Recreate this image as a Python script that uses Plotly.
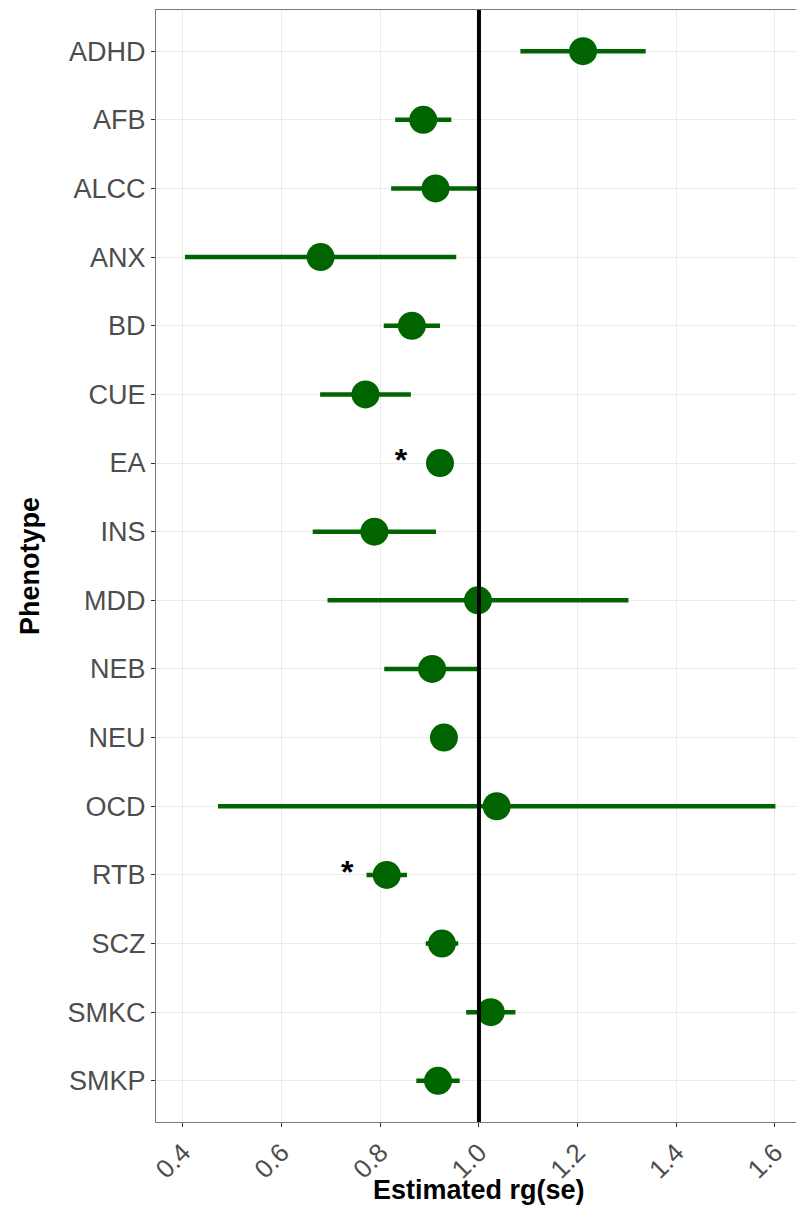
import plotly.graph_objects as go

# Genetic correlation estimates per phenotype
phenotypes = ["ADHD", "AFB", "ALCC", "ANX", "BD", "CUE", "EA", "INS",
              "MDD", "NEB", "NEU", "OCD", "RTB", "SCZ", "SMKC", "SMKP"]
rg = [1.211, 0.887, 0.912, 0.679, 0.864, 0.770, 0.921, 0.788,
      0.998, 0.905, 0.929, 1.036, 0.813, 0.925, 1.024, 0.917]
ci_half = [0.127, 0.057, 0.090, 0.275, 0.057, 0.092, 0.010, 0.125,
           0.305, 0.097, 0.010, 0.565, 0.041, 0.033, 0.050, 0.044]

# Significance markers
star_labels = ["EA", "RTB"]
star_x = [0.842, 0.733]

x_ticks = [0.4, 0.6, 0.8, 1.0, 1.2, 1.4, 1.6]

GREEN = "#006400"

fig = go.Figure()

fig.add_trace(go.Scatter(
    x=rg, y=phenotypes, mode="markers",
    marker=dict(size=28, color=GREEN, line=dict(width=0)),
    error_x=dict(type="data", array=ci_half, symmetric=True,
                 color=GREEN, thickness=4.5, width=0),
    showlegend=False, hoverinfo="x+y",
))

fig.add_trace(go.Scatter(
    x=star_x, y=star_labels, mode="text", text=["<b>*</b>"] * len(star_labels),
    textposition="middle center",
    textfont=dict(size=32, color="black", family="Liberation Sans, Arial, sans-serif"),
    showlegend=False, hoverinfo="skip",
))

# Reference line at rg = 1
fig.add_shape(type="line", xref="x", yref="paper", x0=1.0, x1=1.0, y0=0, y1=1,
              line=dict(color="black", width=4), layer="above")

fig.update_layout(
    width=796, height=1207,
    margin=dict(l=156, r=0, t=10, b=85),
    plot_bgcolor="white", paper_bgcolor="white",
    font=dict(family="Liberation Sans, Arial, sans-serif"),
    xaxis=dict(
        range=[0.3453, 1.6427], tickvals=x_ticks,
        ticktext=[f"{v:.1f}" for v in x_ticks],
        tickangle=-45, tickfont=dict(size=26, color="#4D4D4D"),
        ticks="outside", ticklen=4, tickcolor="#333333", tickwidth=1,
        showgrid=True, gridcolor="#EBEBEB", gridwidth=1.3,
        zeroline=False, showline=True, linecolor="#7a7a7a", linewidth=1,
        mirror=True,
    ),
    yaxis=dict(
        type="category", categoryorder="array", categoryarray=phenotypes,
        range=[15.6, -0.6],
        tickfont=dict(size=27, color="#4D4D4D"),
        ticks="outside", ticklen=4, tickcolor="#333333", tickwidth=1,
        showgrid=True, gridcolor="#EBEBEB", gridwidth=1.3,
        zeroline=False, showline=True, linecolor="#7a7a7a", linewidth=1,
        mirror=False,
    ),
    annotations=[
        dict(text="<b>Estimated rg(se)</b>", xref="x", yref="paper",
             x=1.0, y=0, yshift=-68, xanchor="center", yanchor="middle",
             showarrow=False, font=dict(size=27, color="black")),
        dict(text="<b>Phenotype</b>", xref="paper", yref="paper",
             x=0, y=0.5, xshift=-126, xanchor="center", yanchor="middle",
             textangle=-90, showarrow=False, font=dict(size=27, color="black")),
    ],
)

fig.write_html("out.html")
